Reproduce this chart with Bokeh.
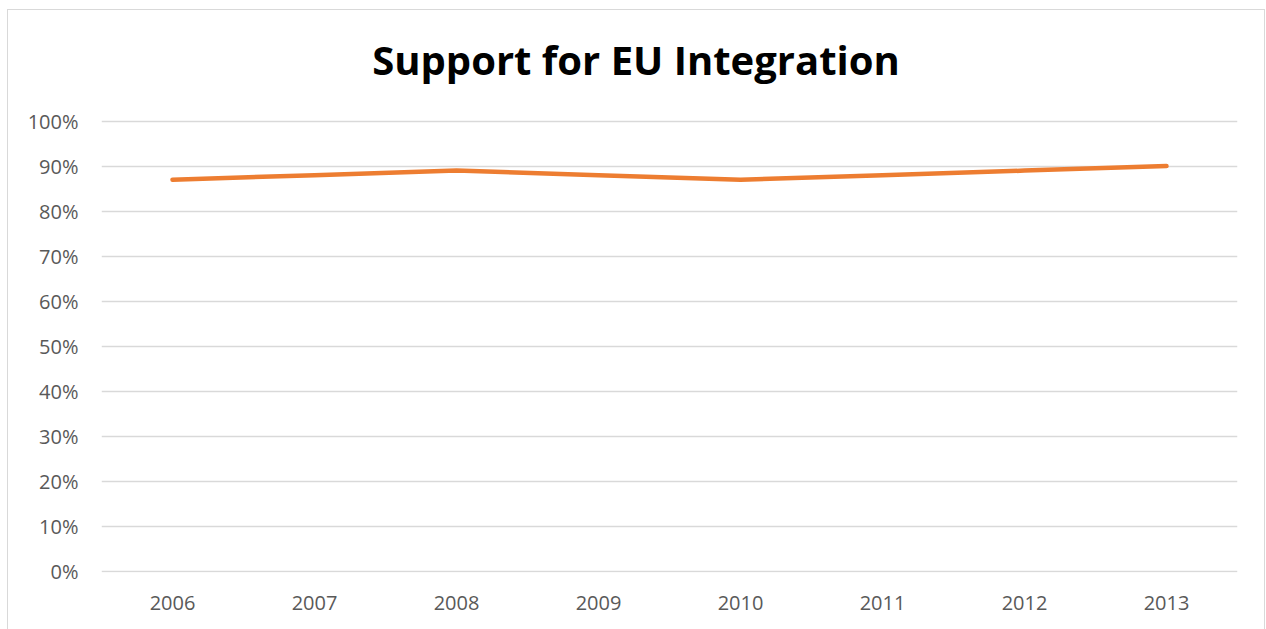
from bokeh.plotting import figure
from bokeh.embed import file_html
from bokeh.resources import INLINE
from bokeh.models import FixedTicker, NumeralTickFormatter, Range1d, Label

years = ["2006", "2007", "2008", "2009", "2010", "2011", "2012", "2013"]
support = [0.87, 0.88, 0.89, 0.88, 0.87, 0.88, 0.89, 0.90]
y_ticks = [0.0, 0.1, 0.2, 0.3, 0.4, 0.5, 0.6, 0.7, 0.8, 0.9, 1.0]
title_text = "Support for EU Integration"

# the frame extends up into the title area so the title can sit inside it
p = figure(x_range=years, y_range=Range1d(-0.0015, 1.2452), width=1258, height=621,
           output_backend="svg", toolbar_location=None, title=None,
           min_border_left=93, min_border_right=29, min_border_top=0, min_border_bottom=59)

p.styles = {"border": "1px solid #d9d9d9", "box-sizing": "border-box",
            "margin-left": "7px", "margin-top": "9px"}

title = Label(x=3.764, y=1.1356, text=title_text,
              text_align="center", text_baseline="middle", text_font="Open Sans",
              text_font_style="bold", text_font_size="40px", text_color="#000000")
p.add_layout(title)

p.line(x=years, y=support, line_color="#ED7D31", line_width=4.5, line_cap="round", line_join="round")

p.outline_line_color = None
p.xgrid.grid_line_color = None
p.ygrid.grid_line_color = "#d9d9d9"
p.ygrid.grid_line_width = 1.3

p.yaxis.ticker = FixedTicker(ticks=y_ticks)
p.yaxis.formatter = NumeralTickFormatter(format="0%")
for ax in (p.xaxis, p.yaxis):
    ax.axis_line_color = None
    ax.major_tick_line_color = None
    ax.minor_tick_line_color = None
    ax.major_label_text_font = "Open Sans"
    ax.major_label_text_font_size = "20px"
    ax.major_label_text_color = "#595959"
p.yaxis.major_label_standoff = 17
p.xaxis.major_label_standoff = 17
p.x_range.range_padding = 0.0

open("out.html", "w").write(file_html(p, INLINE))
